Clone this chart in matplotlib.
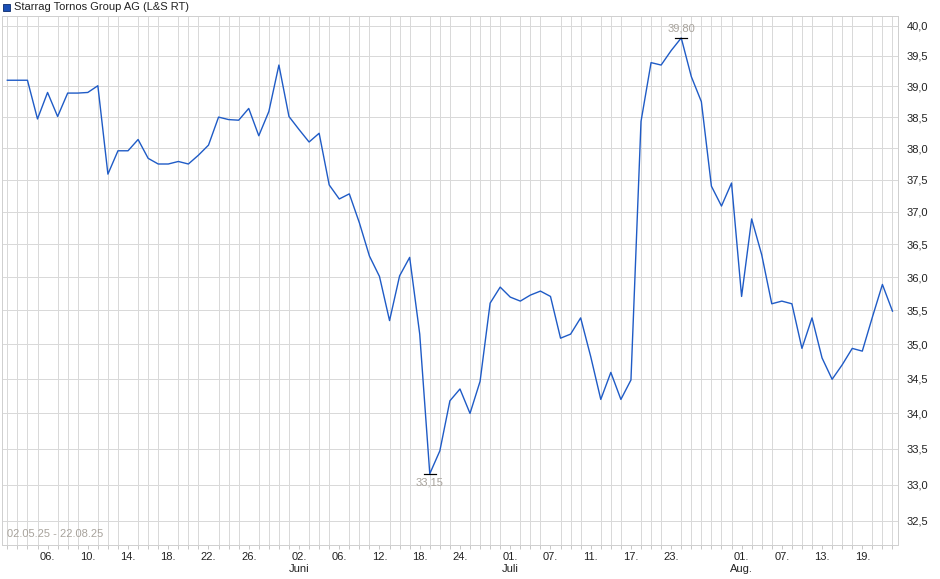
import matplotlib
matplotlib.use("Agg")
import matplotlib.pyplot as plt
from matplotlib.ticker import FixedLocator, NullLocator

plt.rcParams['font.family'] = ['Liberation Sans', 'DejaVu Sans']

# closing prices, one per trading day (02.05.25 - 22.08.25)
prices = [
    39.10, 39.10, 39.10, 38.47, 38.90, 38.51, 38.89, 38.89, 38.90, 39.01,
    37.59, 37.96, 37.96, 38.14, 37.84, 37.75, 37.75, 37.79, 37.75, 37.89,
    38.05, 38.50, 38.46, 38.45, 38.64, 38.20, 38.59, 39.35, 38.51, 38.30,
    38.10, 38.24, 37.42, 37.20, 37.28, 36.83, 36.32, 36.01, 35.35, 36.02,
    36.30, 35.15, 33.15, 33.47, 34.18, 34.35, 34.00, 34.46, 35.61, 35.85,
    35.70, 35.64, 35.73, 35.79, 35.71, 35.09, 35.15, 35.39, 34.82, 34.20,
    34.59, 34.20, 34.48, 38.43, 39.39, 39.35, 39.59, 39.80, 39.16, 38.75,
    37.40, 37.09, 37.45, 35.71, 36.89, 36.34, 35.60, 35.64, 35.60, 34.94,
    35.39, 34.80, 34.49, 34.70, 34.94, 34.90, 35.40, 35.89, 35.49,
]

tick_idx = [4, 8, 12, 16, 20, 24, 29, 33, 37, 41, 45, 50, 54, 58, 62, 66, 73, 77, 81, 85]
tick_labels = ['06.', '10.', '14.', '18.', '22.', '26.', '02.\nJuni', '06.', '12.', '18.',
               '24.', '01.\nJuli', '07.', '11.', '17.', '23.', '01.\nAug.', '07.', '13.', '19.']

y_ticks = [32.5, 33.0, 33.5, 34.0, 34.5, 35.0, 35.5, 36.0, 36.5, 37.0, 37.5, 38.0, 38.5, 39.0, 39.5, 40.0]

title = 'Starrag Tornos Group AG (L&S RT)'
period = '02.05.25 - 22.08.25'

W, H = 940, 579
PX = 72 / 100  # one pixel in points

fig = plt.figure(figsize=(W / 100, H / 100), dpi=100)
ax = fig.add_axes([2 / W, (H - 545) / H, 896 / W, 529 / H])

x = list(range(len(prices)))
ax.plot(x, prices, color='#1f5bc6', lw=1.0, zorder=3)

ax.set_yscale('log')
ax.set_ylim(32.174, 40.168)
ax.set_xlim(-0.53, len(prices) - 0.45)

ax.yaxis.set_major_locator(FixedLocator(y_ticks))
ax.yaxis.set_minor_locator(NullLocator())
ax.set_yticklabels([f'{v:.1f}'.replace('.', ',') for v in y_ticks])
ax.yaxis.tick_right()
ax.tick_params(axis='y', length=0, pad=6, labelsize=8, labelcolor='#222222')

ax.set_xticks(x, minor=True)
ax.set_xticks(tick_idx)
ax.set_xticklabels(tick_labels)
ax.tick_params(axis='x', which='both', length=3, width=PX, color='#c8c8c8', labelsize=8,
               labelcolor='#222222', pad=2)

ax.grid(True, axis='x', which='minor', color='#d9d9d9', lw=PX)
ax.grid(True, axis='y', which='major', color='#d9d9d9', lw=PX)
ax.set_axisbelow(True)
for s in ax.spines.values():
    s.set_color('#d0d0d0')
    s.set_linewidth(PX)

# high / low markers
hi = prices.index(max(prices))
lo = prices.index(min(prices))
ax.plot([hi - 0.6, hi + 0.6], [prices[hi]] * 2, color='black', lw=PX * 1.2, zorder=4)
ax.plot([lo - 0.6, lo + 0.6], [prices[lo]] * 2, color='black', lw=PX * 1.2, zorder=4)
ax.annotate(f'{prices[hi]:.2f}'.replace('.', ','), (hi, prices[hi]), xytext=(0, 3),
            textcoords='offset points', ha='center', va='bottom', fontsize=8, color='#a8a39c')
ax.annotate(f'{prices[lo]:.2f}'.replace('.', ','), (lo, prices[lo]), xytext=(0, -3),
            textcoords='offset points', ha='center', va='top', fontsize=8, color='#a8a39c')

ax.text(0.006, 0.012, period, transform=ax.transAxes, fontsize=8,
        color='#a8a39c', ha='left', va='bottom')

# legend at top
fig.patches.append(plt.Rectangle((3 / W, 1 - 11 / H), 7 / W, 7 / H, transform=fig.transFigure,
                                 facecolor='#1a4fb5', edgecolor='#0a2a6a', lw=0.6))
fig.text(14 / W, 1 - 7 / H, title, fontsize=8, color='#222222', ha='left', va='center')

fig.savefig('out.png', dpi=100)
